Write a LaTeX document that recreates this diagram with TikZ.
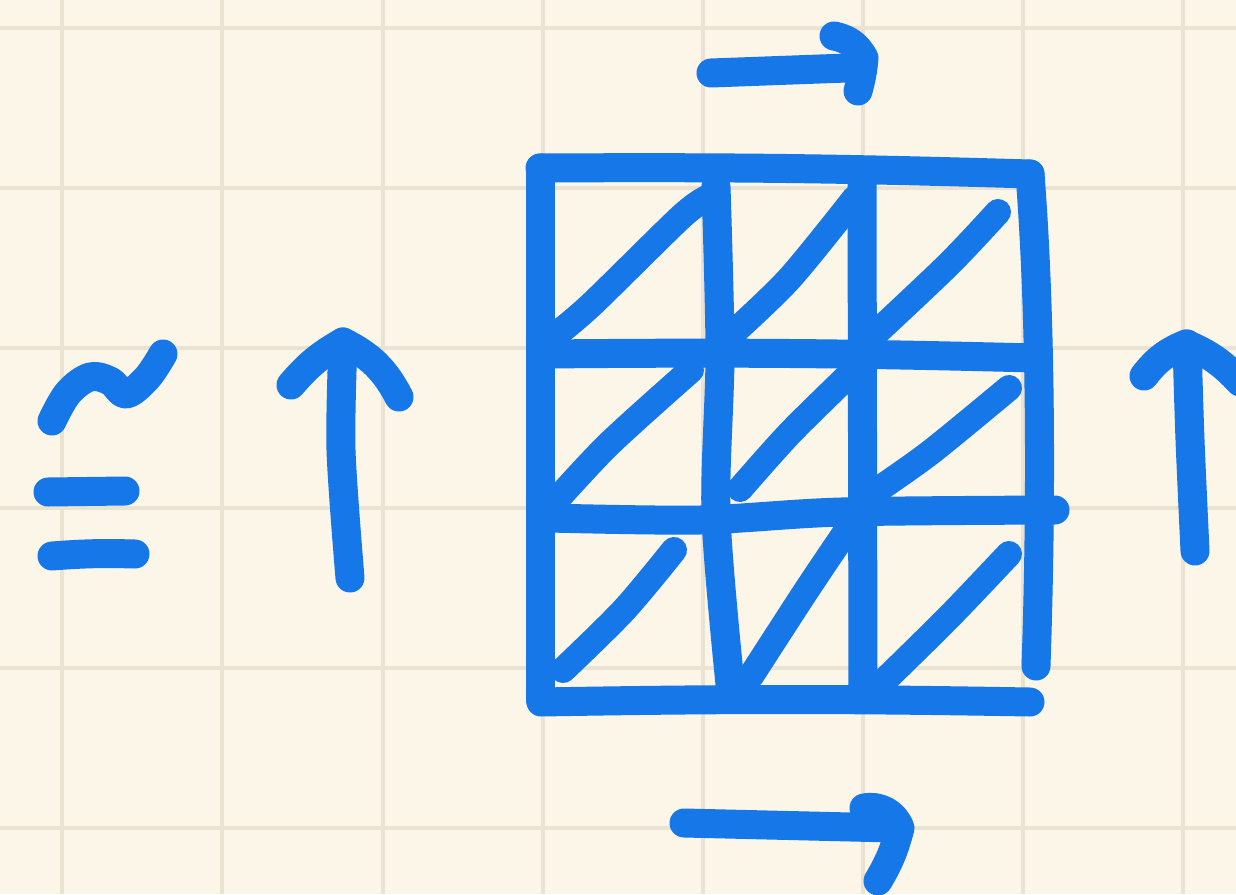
\documentclass[tikz,border=0pt]{standalone}
\definecolor{paper}{RGB}{251,246,232}
\definecolor{gridc}{RGB}{234,227,209}
\definecolor{ink}{RGB}{22,119,232}
\begin{document}
\begin{tikzpicture}[x=0.5pt,y=-0.5pt,
  pen/.style={draw=ink,line width=14.5pt,line cap=round,line join=round},
  thin/.style={draw=ink,line width=13pt,line cap=round,line join=round},
  paperline/.style={draw=gridc,line width=2.4pt}]
\fill[paper] (0,0) rectangle (1236,894);
\useasboundingbox (0,0) rectangle (1236,894);
% background grid
\foreach \x in {62,222,383,543,703,863,1023,1183}
  \draw[paperline] (\x,0) -- (\x,894);
\foreach \y in {28,188,348,508,668,828}
  \draw[paperline] (0,\y) -- (1236,\y);
% tilde
\draw[pen] plot[smooth,tension=0.6] coordinates {(52,421) (68,393) (90,377) (110,381) (126,394) (147,378) (163,354)};
% equals
\draw[pen] (48,492) -- (125,491);
\draw[pen] (52,556) to[bend left=3] (135,554);
% left up arrow
\draw[pen] plot[smooth,tension=0.5] coordinates {(350,578) (341,450) (343,342)};
\draw[pen] (291,385) to[bend left=10] (343,342) to[bend left=18] (399,397);
% top arrow
\draw[pen] (711,73) -- (847,68);
\draw[pen] (834,36) to[bend left=25] (864,58) to[bend left=5] (858,91);
% bottom arrow
\draw[pen] (684,823) -- (893,828);
\draw[pen] (864,808) to[bend left=40] (900,828) to[bend left=8] (878,881);
% right up arrow
\draw[pen] plot[smooth,tension=0.5] coordinates {(1195,551) (1190,440) (1187,344)};
\draw[pen] (1144,376) to[bend left=15] (1186,344) to[bend left=12] (1240,382);
% big square frame
\draw[pen] (540,168) -- (540,700);
\draw[pen] (540,168) to[bend left=1] (1030,174);
\draw[pen] (1030,174) .. controls (1042,330) and (1041,520) .. (1036,666);
\draw[pen] (541,702) to[bend left=1] (1030,702);
% inner lines
\draw[pen] (545,354) to[bend left=1] (1034,358);
\draw[pen] plot[smooth,tension=0.5] coordinates {(549,518) (700,520) (841,512) (1055,510)};
\draw[pen] plot[smooth,tension=0.5] coordinates {(716,187) (720,354) (716,516) (731,694)};
\draw[pen] (862,180) -- (863,696);
% diagonals row 1
\draw[thin] plot[smooth,tension=0.5] coordinates {(553,337) (591,305) (681,217) (707,198)};
\draw[thin] plot[smooth,tension=0.5] coordinates {(733,333) (790,278) (855,198)};
\draw[thin] plot[smooth,tension=0.5] coordinates {(876,333) (949,264) (998,212)};
% diagonals row 2
\draw[thin] plot[smooth,tension=0.5] coordinates {(553,504) (609,444) (691,370)};
\draw[thin] plot[smooth,tension=0.5] coordinates {(740,489) (790,433) (849,375)};
\draw[thin] plot[smooth,tension=0.5] coordinates {(876,491) (931,452) (1009,388)};
% diagonals row 3
\draw[thin] plot[smooth,tension=0.5] coordinates {(563,670) (624,610) (674,550)};
\draw[thin] plot[smooth,tension=0.5] coordinates {(751,676) (806,591) (845,533)};
\draw[thin] plot[smooth,tension=0.5] coordinates {(886,679) (949,617) (1009,554)};
\end{tikzpicture}
\end{document}
